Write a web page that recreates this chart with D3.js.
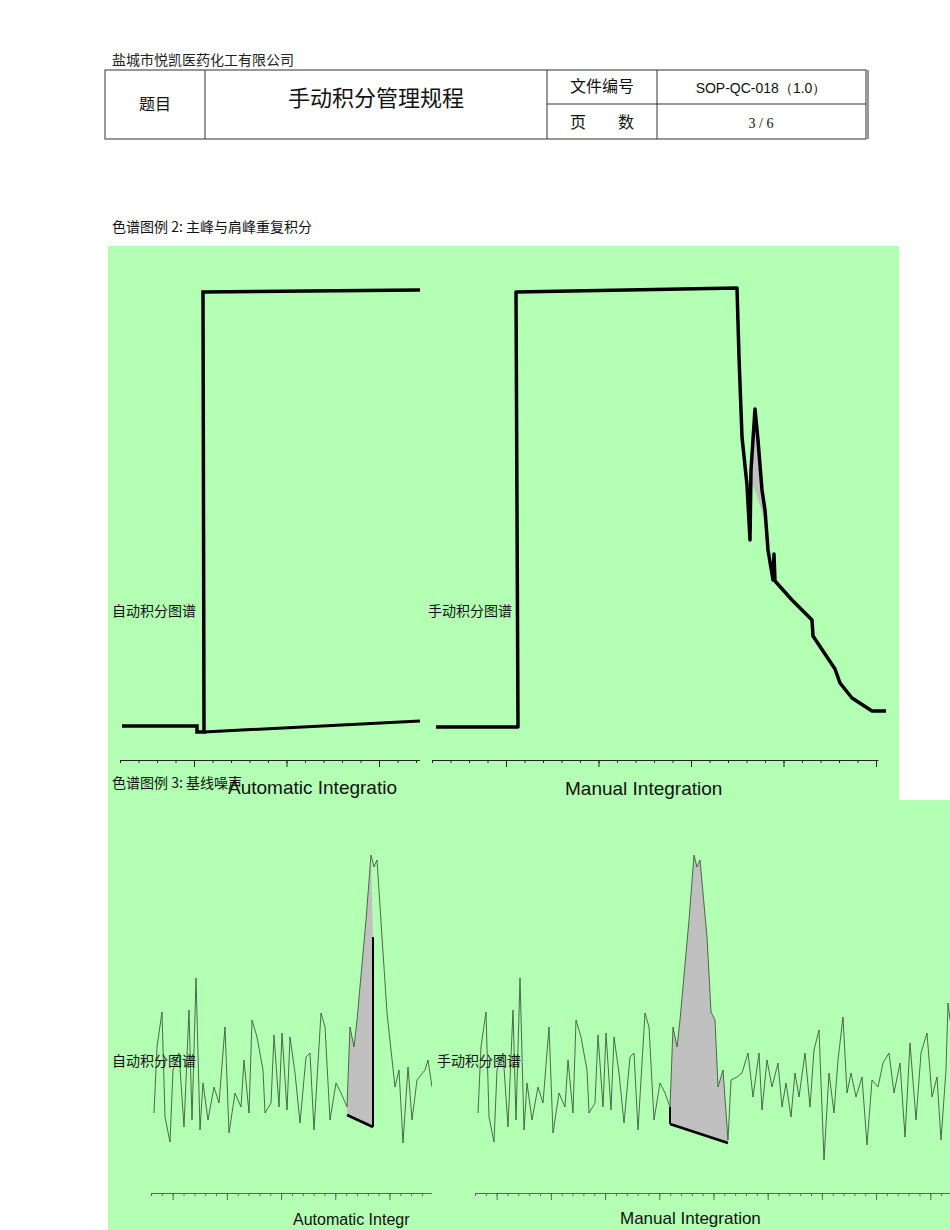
<!DOCTYPE html>
<html><head><meta charset="utf-8">
<script src="https://cdn.jsdelivr.net/npm/d3@7"></script>
<style>body{margin:0;background:#fff}svg{display:block}</style>
</head><body><div id="app"></div>
<script>
const width = 950, height = 1230;
const cjk = "'Noto Sans CJK SC', sans-serif";
const latin = "'Liberation Sans', Arial, sans-serif";

// example 2, automatic: detector signal vs time (chart units)
const autoStep = [[2,34],[77,34],[77,28],[84,28],[83,468],[300,470]];
const autoDrift = [[84,28],[300,39]];
// example 2, manual
const manualStep = [[4,33],[86,33],[84,468],[305,472],[307,403],[310,323],[315,275],[318,220],
  [319,290],[323,351],[326,320],[330,270],[333,250],[336,210],[341,180],[342,206],[343,179],
  [360,160],[380,140],[381,124],[403,91],[408,77],[420,62],[440,49],[454,49]];
const shoulderArea = [[319,280],[323,351],[327,310],[331,260],[334,235],[328,255]];

// example 3, baseline noise
const noiseAuto = [[3,80],[6,146],[11,181],[14,76],[19,51],[22,123],[28,140],[33,66],[38,183],[41,73],
  [45,215],[49,63],[52,110],[57,73],[63,106],[68,90],[74,166],[78,60],[84,100],[90,86],[93,133],[98,80],
  [101,173],[106,156],[112,123],[114,80],[120,90],[123,158],[128,86],[131,160],[136,83],[139,156],
  [144,120],[149,70],[155,136],[159,140],[163,63],[170,180],[174,166],[179,73],[185,110],[190,100],
  [196,86],[199,166],[203,146],[206,173],[215,273],[220,338],[223,326],[226,333],[231,256],[236,180],
  [244,106],[248,123],[252,50],[257,126],[261,73],[266,113],[274,123],[277,133],[281,106]];
const autoBase = [[196,78],[222,66]];
const autoDrop = [[222,66],[222,256]];
const noiseManual = [[3,80],[6,146],[11,181],[14,76],[19,51],[22,123],[28,140],[33,66],[38,183],[41,73],
  [45,215],[49,63],[52,110],[57,73],[63,106],[68,90],[74,166],[78,60],[84,100],[90,86],[93,133],[98,80],
  [101,173],[106,156],[112,123],[114,80],[120,90],[123,158],[128,86],[131,160],[136,83],[139,156],
  [144,120],[149,70],[155,136],[159,140],[163,63],[170,180],[174,166],[179,73],[185,110],[190,100],
  [195,86],[198,166],[202,146],[205,173],[214,273],[219,338],[222,326],[225,333],[232,256],[236,181],
  [240,173],[243,106],[248,123],[253,53],[256,113],[262,116],[267,120],[273,140],[278,96],[284,140],
  [287,83],[292,133],[297,106],[303,130],[307,86],[311,110],[316,76],[320,120],[324,96],[330,140],
  [335,86],[339,143],[344,163],[349,33],[354,120],[359,80],[363,133],[368,176],[372,100],[376,120],
  [381,96],[387,116],[392,48],[397,113],[403,106],[408,130],[414,140],[419,100],[425,130],[430,56],
  [435,150],[441,73],[446,140],[452,160],[457,96],[462,116],[466,53],[471,123],[473,190],[475,173]];
const manualBase = [[195,69],[253,50]];

const svg = d3.select("#app").append("svg").attr("width", width).attr("height", height);

// page text and header table
svg.append("text").attr("x", 112).attr("y", 65).attr("font-family", cjk).attr("font-size", 14)
  .attr("fill", "#222").text("盐城市悦凯医药化工有限公司");
const tb = svg.append("g").attr("stroke", "#333").attr("stroke-width", 1);
tb.append("rect").attr("x", 105).attr("y", 70).attr("width", 761).attr("height", 69).attr("fill", "none");
tb.append("line").attr("x1", 868).attr("x2", 868).attr("y1", 70).attr("y2", 139);
[205, 547, 657].forEach(x => tb.append("line").attr("x1", x).attr("x2", x).attr("y1", 70).attr("y2", 139));
tb.append("line").attr("x1", 547).attr("x2", 866).attr("y1", 104).attr("y2", 104);
const ht = (x, y, s, t, f, a) => svg.append("text").attr("x", x).attr("y", y).attr("font-size", s)
  .attr("font-family", f || cjk).attr("text-anchor", a || "middle").attr("fill", "#111").text(t);
ht(155, 110, 16, "题目");
ht(376, 106, 22, "手动积分管理规程");
ht(602, 92, 16, "文件编号");
ht(761, 93, 14, "SOP-QC-018（1.0）", latin);
ht(602, 128, 16, "页　　数");
ht(761, 128, 14, "3 / 6", "'Liberation Serif', serif");
ht(112, 232, 14, "色谱图例 2: 主峰与肩峰重复积分", cjk, "start");

// green backgrounds
svg.append("rect").attr("x", 108).attr("y", 246).attr("width", 791).attr("height", 556).attr("fill", "#b3ffb3");
svg.append("rect").attr("x", 108).attr("y", 800).attr("width", 842).attr("height", 430).attr("fill", "#b3ffb3");

const line = d3.line();
function panel(o) {
  const x = d3.scaleLinear().domain([0, o.w]).range([o.x0, o.x0 + o.w]);
  const y = d3.scaleLinear().domain([0, o.h]).range([o.y0, o.y0 - o.h]);
  line.x(d => x(d[0])).y(d => y(d[1]));
  const g = svg.append("g");
  const clipId = "c" + o.x0 + "_" + o.y0;
  svg.append("clipPath").attr("id", clipId).append("rect")
    .attr("x", o.x0 - 15).attr("y", o.y0 - o.h - 30).attr("width", o.clipW).attr("height", o.h + 80);
  g.attr("clip-path", `url(#${clipId})`);
  const minor = d3.range(0, o.w + 0.1, o.step);
  const major = minor.filter((_, i) => i % 5 === o.majorOffset);
  g.append("g").attr("transform", `translate(0,${o.axisY})`)
    .call(d3.axisBottom(x).tickValues(minor).tickSize(3).tickFormat("").tickSizeOuter(0))
    .call(a => a.selectAll("path,line").attr("stroke", o.axisColor));
  g.append("g").attr("transform", `translate(0,${o.axisY})`)
    .call(d3.axisBottom(x).tickValues(major).tickSize(7).tickFormat("").tickSizeOuter(0))
    .call(a => a.select("path").remove())
    .call(a => a.selectAll("line").attr("stroke", o.axisColor));
  g.append("text").attr("x", o.titleX).attr("y", o.titleY).attr("font-family", latin)
    .attr("font-size", o.titleSize).attr("fill", "#111").text(o.title);
  return {g, x, y};
}

// Example 2
let p = panel({x0: 120, y0: 760, w: 300, h: 470, clipW: 315, axisY: 760, step: 18.5, majorOffset: 4,
  axisColor: "#222", title: "Automatic Integratio", titleX: 228, titleY: 794, titleSize: 19});
p.g.append("path").attr("d", line(autoStep)).attr("fill", "none").attr("stroke", "#000").attr("stroke-width", 3.5);
p.g.append("path").attr("d", line(autoDrift)).attr("fill", "none").attr("stroke", "#000").attr("stroke-width", 3);

p = panel({x0: 432, y0: 760, w: 446, h: 470, clipW: 470, axisY: 760, step: 18.5, majorOffset: 4,
  axisColor: "#222", title: "Manual Integration", titleX: 565, titleY: 795, titleSize: 19});
p.g.append("path").attr("d", line(shoulderArea) + "Z").attr("fill", "#c0c0c0").attr("stroke", "none");
p.g.append("path").attr("d", line(manualStep)).attr("fill", "none").attr("stroke", "#000")
  .attr("stroke-width", 3.5).attr("stroke-linejoin", "round");

ht(112, 616, 14, "自动积分图谱", cjk, "start");
ht(428, 616, 14, "手动积分图谱", cjk, "start");
ht(112, 788, 14, "色谱图例 3: 基线噪声", cjk, "start");

// Example 3
p = panel({x0: 151, y0: 1193, w: 281, h: 400, clipW: 296, axisY: 1193, step: 10.84, majorOffset: 2,
  axisColor: "#4f6f4f", title: "Automatic Integr", titleX: 293, titleY: 1225, titleSize: 16});
p.g.append("path").attr("d", line(noiseAuto.filter(d => d[0] >= 196 && d[0] <= 220)
    .concat([[222, 256]], autoBase.slice().reverse())) + "Z")
  .attr("fill", "#c0c0c0");
p.g.append("path").attr("d", line(noiseAuto)).attr("fill", "none").attr("stroke", "#3d5a3d").attr("stroke-width", 0.9);
p.g.append("path").attr("d", line(autoBase)).attr("stroke", "#000").attr("stroke-width", 2.5);
p.g.append("path").attr("d", line(autoDrop)).attr("stroke", "#000").attr("stroke-width", 2);

p = panel({x0: 475, y0: 1193, w: 475, h: 400, clipW: 490, axisY: 1193, step: 10.84, majorOffset: 2,
  axisColor: "#4f6f4f", title: "Manual Integration", titleX: 620, titleY: 1224, titleSize: 17});
p.g.append("path").attr("d", line(noiseManual.filter(d => d[0] >= 195 && d[0] <= 253)
    .concat(manualBase.slice().reverse())) + "Z")
  .attr("fill", "#c0c0c0");
p.g.append("path").attr("d", line(noiseManual)).attr("fill", "none").attr("stroke", "#3d5a3d").attr("stroke-width", 0.9);
p.g.append("path").attr("d", line(manualBase)).attr("stroke", "#000").attr("stroke-width", 2.5);
p.g.append("path").attr("d", line([[195, 69], [195, 86]])).attr("stroke", "#000").attr("stroke-width", 2);

ht(112, 1066, 14, "自动积分图谱", cjk, "start");
ht(437, 1066, 14, "手动积分图谱", cjk, "start");
</script></body></html>
